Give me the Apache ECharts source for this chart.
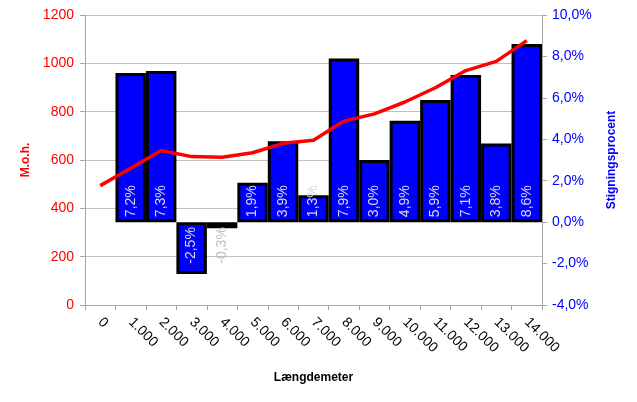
<!DOCTYPE html>
<html>
<head>
<meta charset="utf-8">
<script src="https://cdn.jsdelivr.net/npm/echarts@6/dist/echarts.min.js"></script>
<style>html,body{margin:0;padding:0;background:#fff}#c{width:637px;height:402px}</style>
</head>
<body>
<div id="c"></div>
<script>
const categories = ['0','1.000','2.000','3.000','4.000','5.000','6.000','7.000','8.000','9.000','10.000','11.000','12.000','13.000','14.000'];
const elevation = [494, 566, 639, 614, 611, 630, 669, 682, 761, 791, 840, 899, 970, 1008, 1094];
const gradient = [null, 7.2, 7.3, -2.5, -0.3, 1.9, 3.9, 1.3, 7.9, 3.0, 4.9, 5.9, 7.1, 3.8, 8.6];

const FONT = 'Liberation Sans';
const fmtPct = v => v.toFixed(1).replace('.', ',') + '%';

const barData = gradient.map(v => {
  if (v === null) return null;
  const neg = v < 0;
  return {
    value: v,
    label: {
      show: true,
      position: neg ? 'insideTop' : 'insideBottom',
      distance: 5,
      rotate: 90,
      align: neg ? 'right' : 'left',
      verticalAlign: 'middle',
      color: v > -1 && v < 0 ? '#c0c0c0' : '#d9d9d9',
      fontFamily: FONT,
      fontSize: 14,
      formatter: p => fmtPct(p.value)
    }
  };
});

const chart = echarts.init(document.getElementById('c'));
chart.setOption({
  animation: false,
  grid: { left: 85, right: 95, top: 15, bottom: 97 },
  xAxis: {
    type: 'category',
    data: categories,
    boundaryGap: true,
    name: 'Længdemeter',
    nameLocation: 'middle',
    nameGap: 67,
    nameTextStyle: { fontFamily: FONT, fontSize: 12, fontWeight: 'bold', color: '#000' },
    axisLine: { lineStyle: { color: '#a6a6a6', width: 1 } },
    axisTick: { show: true, length: 5, lineStyle: { color: '#a6a6a6' } },
    axisLabel: { rotate: -45, color: '#000', fontFamily: FONT, fontSize: 14, margin: 15, interval: 0 },
    splitLine: { show: false }
  },
  yAxis: [
    {
      type: 'value', min: 0, max: 1200, interval: 200, position: 'left',
      name: 'M.o.h.', nameLocation: 'middle', nameGap: 49, nameRotate: 90,
      nameTextStyle: { fontFamily: FONT, fontSize: 12, fontWeight: 'bold', color: '#ff0000' },
      axisLine: { show: true, lineStyle: { color: '#a6a6a6' } },
      axisTick: { show: true, length: 5, lineStyle: { color: '#a6a6a6' } },
      axisLabel: { color: '#ff0000', fontFamily: FONT, fontSize: 14, margin: 11, formatter: v => String(v) },
      splitLine: { show: true, lineStyle: { color: '#c0c0c0', width: 1 } }
    },
    {
      type: 'value', min: -4, max: 10, interval: 2, position: 'right',
      name: 'Stigningsprocent', nameLocation: 'middle', nameGap: 64, nameRotate: 90,
      nameTextStyle: { fontFamily: FONT, fontSize: 12, fontWeight: 'bold', color: '#0000ff' },
      axisLine: { show: true, lineStyle: { color: '#a6a6a6' } },
      axisTick: { show: true, length: 5, lineStyle: { color: '#a6a6a6' } },
      axisLabel: { color: '#0000ff', fontFamily: FONT, fontSize: 14, margin: 10, formatter: v => fmtPct(v) },
      splitLine: { show: false }
    }
  ],
  series: [
    {
      type: 'bar',
      yAxisIndex: 1,
      data: barData,
      barWidth: '100%',
      barCategoryGap: '0%',
      itemStyle: { color: '#0000ff', borderColor: '#000', borderWidth: 3 },
      z: 2
    },
    {
      type: 'line',
      yAxisIndex: 0,
      data: elevation,
      showSymbol: false,
      symbol: 'none',
      lineStyle: { color: '#ff0000', width: 3.5 },
      z: 3
    }
  ]
});
</script>
</body>
</html>
